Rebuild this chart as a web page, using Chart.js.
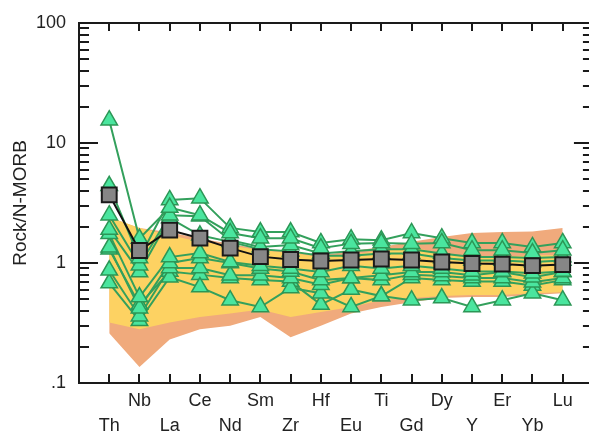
<!DOCTYPE html>
<html>
<head>
<meta charset="utf-8">
<script src="https://cdn.jsdelivr.net/npm/chart.js@4.4.1/dist/chart.umd.min.js"></script>
<style>
  html, body { margin: 0; padding: 0; background: #fff; overflow: hidden; }
  #wrap { width: 589px; height: 436px; }
</style>
</head>
<body>
<div id="wrap"><canvas id="spider"></canvas></div>
<script>
// element order on the x axis
const elements = ['Th', 'Nb', 'La', 'Ce', 'Nd', 'Sm', 'Zr', 'Hf', 'Eu', 'Ti', 'Gd', 'Dy', 'Y', 'Er', 'Yb', 'Lu'];

// average (grey squares)
const avgValues = [3.7, 1.27, 1.88, 1.61, 1.33, 1.13, 1.07, 1.04, 1.06, 1.08, 1.06, 1.02, 0.99, 0.98, 0.95, 0.97];

// individual samples (green triangles)
const sampleA = [15.5, 1.6, 2.9, 2.5, 1.78, 1.61, 1.61, 1.33, 1.45, 1.47, 1.45, 1.47, 1.28, 1.28, 1.21, 1.28];
const sampleB = [4.4, 1.1, 3.35, 3.47, 1.96, 1.81, 1.81, 1.47, 1.58, 1.55, 1.78, 1.61, 1.47, 1.47, 1.36, 1.47];
const sampleC = [2.5, 0.96, 2.5, 2.45, 1.55, 1.36, 1.41, 1.2, 1.25, 1.3, 1.3, 1.2, 1.12, 1.12, 1.1, 1.12];
const sampleD = [1.9, 0.84, 2.37, 1.7, 1.5, 1.3, 1.25, 1.15, 1.15, 1.2, 1.2, 1.1, 1.05, 1.05, 1.02, 1.05];
const sampleE = [1.75, 0.52, 1.12, 1.21, 1.02, 0.95, 0.9, 0.84, 0.95, 0.9, 0.95, 0.9, 0.85, 0.85, 0.82, 0.85];
const sampleF = [1.35, 0.42, 1.0, 1.1, 1.0, 0.9, 0.85, 0.72, 0.75, 0.79, 0.84, 0.84, 0.79, 0.84, 0.76, 0.84];
const sampleG = [0.87, 0.36, 0.91, 0.91, 0.79, 0.79, 0.75, 0.66, 0.75, 0.72, 0.8, 0.78, 0.75, 0.75, 0.69, 0.75];
const sampleH = [0.68, 0.33, 0.76, 0.63, 0.49, 0.43, 0.62, 0.56, 0.43, 0.53, 0.49, 0.51, 0.43, 0.49, 0.56, 0.49];
const sampleI = [1.3, 0.45, 0.85, 0.8, 0.75, 0.72, 0.7, 0.45, 0.6, 0.53, 0.75, 0.72, 0.7, 0.7, 0.65, 0.72];
const samples = [sampleA, sampleB, sampleC, sampleD, sampleE, sampleF, sampleG, sampleH, sampleI];

// reference fields
const outerTop    = [2.4, 1.96, 1.8, 1.6, 1.45, 1.3, 1.25, 1.16, 1.25, 1.36, 1.5, 1.65, 1.78, 1.81, 1.83, 1.96];
const outerBottom = [0.26, 0.136, 0.23, 0.28, 0.3, 0.355, 0.24, 0.3, 0.38, 0.43, 0.47, 0.51, 0.52, 0.52, 0.54, 0.56];
const innerTop    = [2.4, 1.96, 1.7, 1.5, 1.4, 1.28, 1.21, 1.12, 1.16, 1.28, 1.36, 1.2, 1.1, 1.12, 1.16, 1.16];
const innerBottom = [0.32, 0.28, 0.32, 0.355, 0.38, 0.41, 0.355, 0.39, 0.43, 0.49, 0.51, 0.53, 0.54, 0.54, 0.56, 0.57];

const yTickValues = [0.1, 1, 10, 100];
const yTickLabels = ['.1', '1', '10', '100'];

// x range: one slot either side of the elements; the right spine (at 16) is cut off by the picture edge
const xMin = -1;
const xFrame = 16;
const xMax = 15.87;

const FONT = '"Liberation Sans", Arial, Helvetica, sans-serif';
const toPoints = vals => vals.map((v, i) => ({ x: i, y: v }));

// stretch the plot area to the canvas' right edge (layout keeps some right padding otherwise)
const fullWidth = {
  id: 'fullWidth',
  afterLayout(chart) {
    const x = chart.scales.x;
    const a = chart.chartArea;
    a.right = chart.width;
    a.width = a.right - a.left;
    x.right = chart.width;
    x.width = x.right - x.left;
    x.configure();
  }
};

// frame and inward tick marks
const frameTicks = {
  id: 'frameTicks',
  afterDraw(chart) {
    const { ctx, chartArea: a, scales: { x, y } } = chart;
    const rightX = x.getPixelForValue(xFrame);
    ctx.save();
    ctx.strokeStyle = '#1a1a1a';
    ctx.lineWidth = 2;
    ctx.beginPath();
    ctx.moveTo(a.left, a.top); ctx.lineTo(rightX, a.top);
    ctx.moveTo(a.left, a.bottom); ctx.lineTo(rightX, a.bottom);
    ctx.moveTo(a.left, a.top - 1); ctx.lineTo(a.left, a.bottom + 1);
    for (const d of [0.1, 1, 10]) {
      for (let m = 1; m <= 10; m++) {
        const py = Math.round(y.getPixelForValue(d * m));
        const len = (m === 1 || m === 10) ? 19 : 10;
        ctx.moveTo(a.left, py); ctx.lineTo(a.left + len, py);
        ctx.moveTo(rightX, py); ctx.lineTo(rightX - len, py);
      }
    }
    elements.forEach((e, i) => {
      const px = Math.round(x.getPixelForValue(i));
      ctx.moveTo(px, a.top); ctx.lineTo(px, a.top + 8);
      ctx.moveTo(px, a.bottom); ctx.lineTo(px, a.bottom - 9);
    });
    ctx.stroke();
    ctx.restore();
  }
};

const datasets = [
  {
    data: toPoints(avgValues),
    borderColor: '#111', borderWidth: 2,
    pointStyle: 'rect', pointRadius: 10.5,
    pointBackgroundColor: '#868686', pointBorderColor: '#1a1a1a', pointBorderWidth: 2,
    order: 0
  },
  ...samples.map(s => ({
    data: toPoints(s),
    showLine: false,
    pointStyle: 'triangle', pointRadius: 9.5,
    pointBackgroundColor: '#4ae59e', pointBorderColor: '#2c9656', pointBorderWidth: 1.5,
    order: 1
  })),
  ...samples.map(s => ({
    data: toPoints(s),
    borderColor: '#33a05c', borderWidth: 2,
    pointRadius: 0,
    order: 2
  })),
  { data: toPoints(innerTop), fill: '+1', backgroundColor: '#fdd262', borderWidth: 0, pointRadius: 0, order: 3 },
  { data: toPoints(innerBottom), fill: false, borderWidth: 0, pointRadius: 0, order: 3 },
  { data: toPoints(outerTop), fill: '+1', backgroundColor: '#f0aa7c', borderWidth: 0, pointRadius: 0, order: 4 },
  { data: toPoints(outerBottom), fill: false, borderWidth: 0, pointRadius: 0, order: 4 }
];

new Chart(document.getElementById('spider'), {
  type: 'line',
  data: { datasets },
  options: {
    responsive: true,
    maintainAspectRatio: false,
    animation: false,
    events: [],
    elements: { line: { tension: 0 } },
    layout: { padding: { top: 23, right: 0, left: 0, bottom: 0 } },
    plugins: { legend: { display: false }, tooltip: { enabled: false } },
    scales: {
      x: {
        type: 'linear',
        min: xMin, max: xMax,
        grid: { display: false, drawTicks: false },
        border: { display: false },
        afterBuildTicks: scale => { scale.ticks = elements.map((e, i) => ({ value: i })); },
        afterFit: scale => {
          scale.height = 53;
          scale.paddingLeft = 0;
          scale.paddingRight = 0;
        },
        ticks: {
          autoSkip: false, maxRotation: 0, padding: 6, color: '#222',
          font: { family: FONT, size: 18, lineHeight: '25px' },
          callback: (v, i) => (i % 2 === 0 ? ['', elements[i]] : [elements[i], ''])
        }
      },
      y: {
        type: 'logarithmic',
        min: 0.1, max: 100,
        grid: { display: false, drawTicks: false },
        border: { display: false },
        afterBuildTicks: scale => { scale.ticks = yTickValues.map(v => ({ value: v })); },
        afterFit: scale => {
          scale.width = 79;
          scale.paddingTop = 0;
          scale.paddingBottom = 0;
        },
        ticks: {
          padding: 13, color: '#222',
          font: { family: FONT, size: 18 },
          callback: (v, i) => yTickLabels[i]
        },
        title: {
          display: true, text: 'Rock/N-MORB', color: '#222',
          font: { family: FONT, size: 19 },
          padding: { top: 9, bottom: 0 }
        }
      }
    }
  },
  plugins: [fullWidth, frameTicks]
});
</script>
</body>
</html>
